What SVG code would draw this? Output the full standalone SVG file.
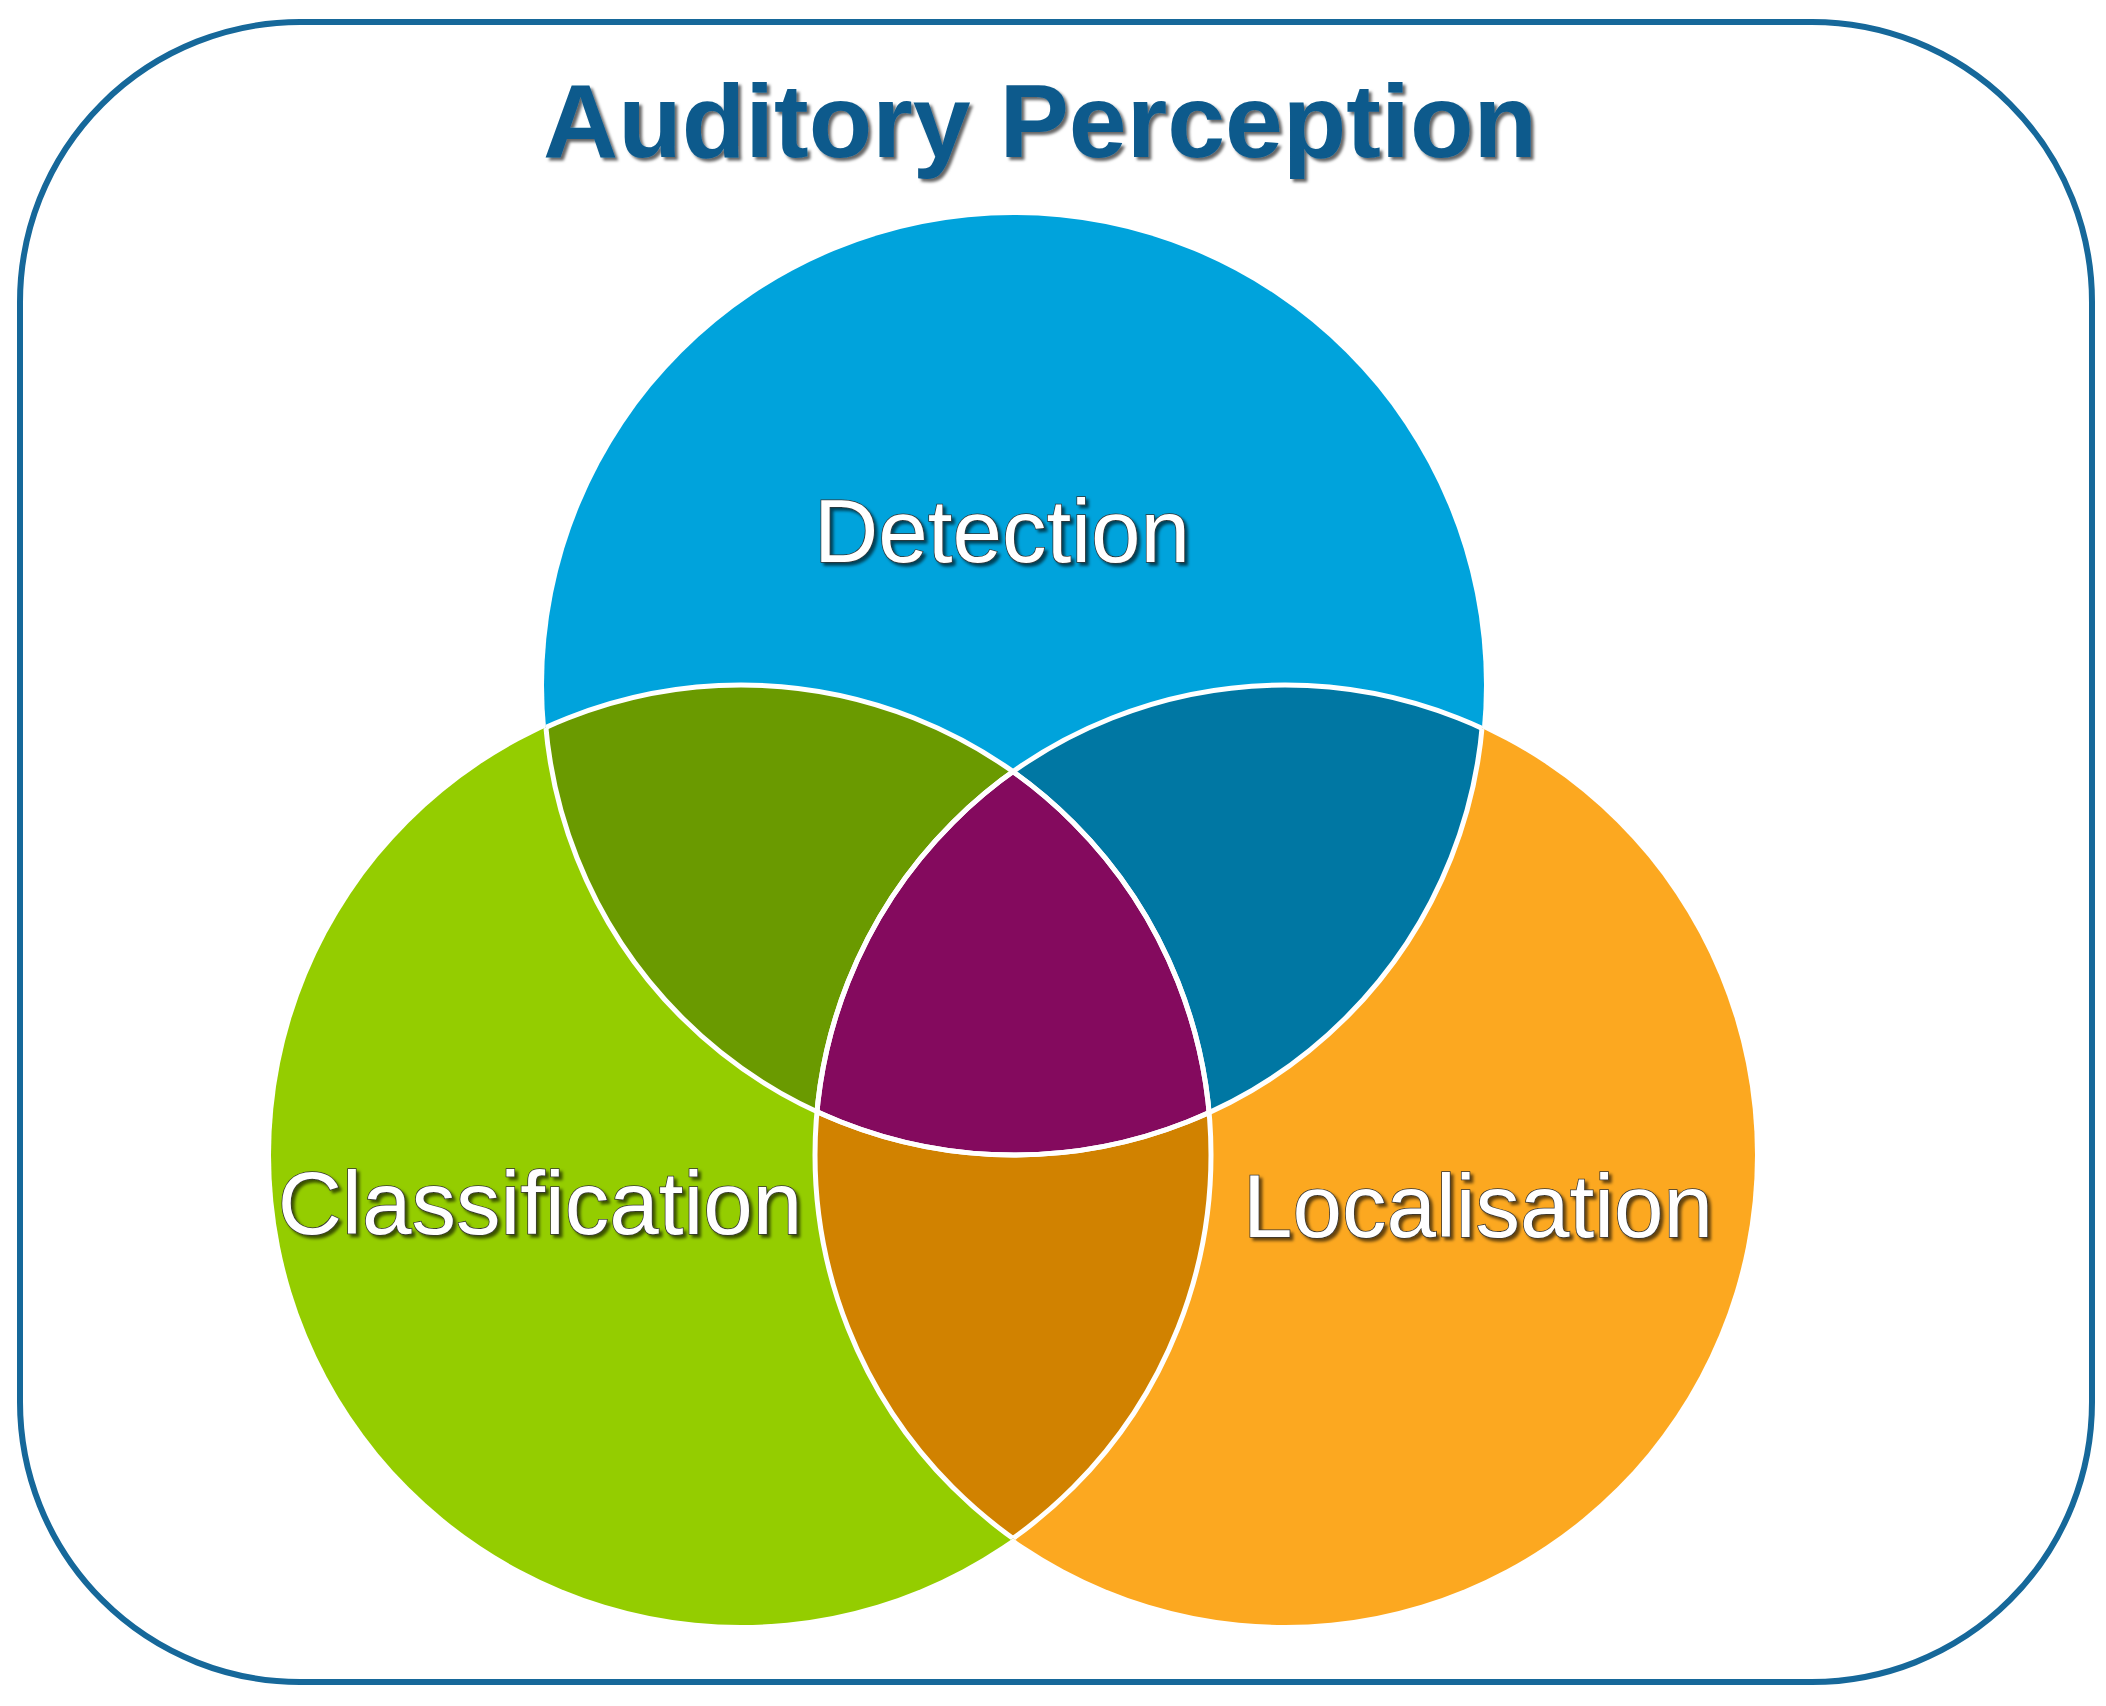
<svg xmlns="http://www.w3.org/2000/svg" width="2106" height="1706" viewBox="0 0 2106 1706">
<defs>
<style>
.lbl{font-family:"Liberation Sans",Arial,sans-serif;font-size:89px;fill:#fff;text-anchor:middle;stroke:#333;stroke-width:1.5px;paint-order:stroke}
.ring{fill:none;stroke:#fff;stroke-width:5}
</style>
<filter id="sh" x="-10%" y="-10%" width="120%" height="130%"><feDropShadow dx="3" dy="3" stdDeviation="1.5" flood-color="#000" flood-opacity="0.6"/></filter>
<clipPath id="cD"><circle cx="1014" cy="685" r="470"/></clipPath>
<clipPath id="cC"><circle cx="741" cy="1155" r="470"/></clipPath>
<clipPath id="cL"><circle cx="1285" cy="1155" r="470"/></clipPath>
</defs>
<rect x="20" y="22" width="2072" height="1660" rx="280" fill="#fff" stroke="#16689a" stroke-width="6"/>
<text x="1040" y="157" font-family="Liberation Sans,Arial,sans-serif" font-weight="bold" font-size="104" fill="#0d5a8c" text-anchor="middle" filter="url(#sh)">Auditory Perception</text>
<g id="detection"><circle cx="1014" cy="685" r="470" fill="#00a3dc"/></g>
<g id="classification"><circle cx="741" cy="1155" r="470" fill="#94cd00"/></g>
<g id="localisation"><circle cx="1285" cy="1155" r="470" fill="#fca820"/></g>
<g id="overlaps">
<circle cx="741" cy="1155" r="470" fill="#6a9a00" clip-path="url(#cD)"/>
<circle cx="1285" cy="1155" r="470" fill="#0077a3" clip-path="url(#cD)"/>
<circle cx="1285" cy="1155" r="470" fill="#d18200" clip-path="url(#cC)"/>
<g clip-path="url(#cD)"><circle cx="1285" cy="1155" r="470" fill="#840a5e" clip-path="url(#cC)"/></g>
</g>
<g id="outlines">
<circle class="ring" cx="1014" cy="685" r="470" clip-path="url(#cC)"/>
<circle class="ring" cx="1014" cy="685" r="470" clip-path="url(#cL)"/>
<circle class="ring" cx="741" cy="1155" r="470" clip-path="url(#cD)"/>
<circle class="ring" cx="741" cy="1155" r="470" clip-path="url(#cL)"/>
<circle class="ring" cx="1285" cy="1155" r="470" clip-path="url(#cD)"/>
<circle class="ring" cx="1285" cy="1155" r="470" clip-path="url(#cC)"/>
</g>
<text class="lbl" x="1002" y="562" filter="url(#sh)">Detection</text>
<text class="lbl" x="540" y="1234" filter="url(#sh)">Classification</text>
<text class="lbl" x="1478" y="1237" filter="url(#sh)">Localisation</text>
</svg>
